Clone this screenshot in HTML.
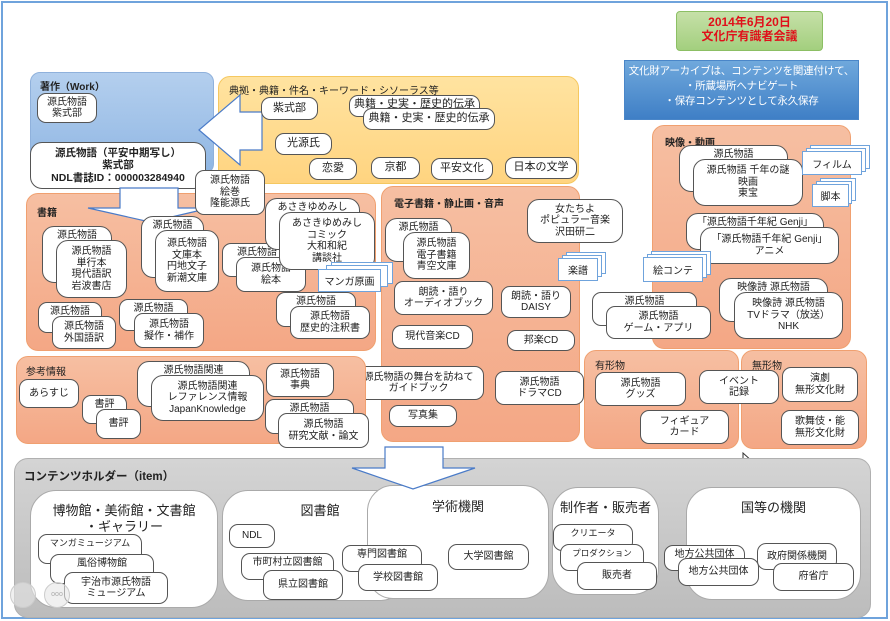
<!DOCTYPE html>
<html><head><meta charset="utf-8"><style>
*{margin:0;padding:0;box-sizing:border-box}
body{width:890px;height:621px;position:relative;overflow:hidden;background:#fff;font-family:"Liberation Sans","Noto Sans CJK JP",sans-serif;color:#222}
.a{position:absolute}
.b{position:absolute;background:#fff;border:1px solid #555;border-radius:9px;display:flex;align-items:center;justify-content:center;text-align:center;font-size:10px;line-height:11.5px;white-space:nowrap}
.bk{align-items:flex-start;padding-top:3px}
.g{position:absolute;border-radius:12px;border:1px solid #f0a070;background:linear-gradient(#f6bfa2,#f4a785)}
.t{position:absolute;font-size:10px;font-weight:bold;white-space:nowrap}
.h{position:absolute;background:#fff;border:1px solid #aaa;border-radius:26px}
.ht{position:absolute;font-size:13px;text-align:center;white-space:nowrap;line-height:16px}
.d{position:absolute;background:#fff;border:1.5px solid #6fa3dc}
.dt{position:absolute;font-size:10px;display:flex;align-items:center;justify-content:center;background:#fff;border:1.5px solid #6fa3dc}
</style></head><body>
<div class="a" style="left:1px;top:1px;width:887px;height:618px;border:2px solid #6fa3dc"></div>

<!-- title scroll -->
<div class="a" style="left:676px;top:11px;width:147px;height:40px;background:linear-gradient(#c6e0a8,#a3cf7e);border:1px solid #8cbf64;border-radius:4px"></div>
<div class="a" style="left:676px;top:15px;width:147px;text-align:center;color:#e0101a;font-weight:bold;font-size:12px;line-height:14px">2014年6月20日<br>文化庁有識者会議</div>
<!-- blue box -->
<div class="a" style="left:624px;top:60px;width:235px;height:60px;background:linear-gradient(#6fa8dc,#3f7fc6);border:1px solid #4a86c8;color:#fff;font-size:10.5px;line-height:15px;text-align:center;padding-top:3px;white-space:nowrap;letter-spacing:-0.2px">文化財アーカイブは、コンテンツを関連付けて、<br>・所蔵場所へナビゲート<br>・保存コンテンツとして永久保存</div>

<!-- Work -->
<div class="a" style="left:30px;top:72px;width:184px;height:102px;border-radius:10px;background:linear-gradient(#b4cfee,#8fb6e3);border:1px solid #8fb1dc"></div>
<div class="t" style="left:40px;top:78px">著作（Work）</div>
<div class="b" style="left:37px;top:93px;width:60px;height:30px">源氏物語<br>紫式部</div>

<!-- Yellow -->
<div class="a" style="left:218px;top:76px;width:361px;height:108px;border-radius:12px;background:linear-gradient(#ffe3a0,#ffd480);border:1px solid #f5c860"></div>
<div class="a" style="left:229px;top:82px;font-size:10px;white-space:nowrap">典拠・典籍・件名・キーワード・シソーラス等</div>
<svg class="a" style="left:0;top:0" width="890" height="621"><polygon points="199,130 240,95 240,112 262,112 262,150 240,150 240,165" fill="#fff" stroke="#4a7bc8" stroke-width="1.2"/></svg>
<div class="b" style="left:261px;top:97px;width:57px;height:23px;font-size:11px">紫式部</div>
<div class="b bk" style="left:349px;top:95px;width:131px;height:22px;font-size:11px">典籍・史実・歴史的伝承</div>
<div class="b" style="left:363px;top:108px;width:132px;height:22px;font-size:11px">典籍・史実・歴史的伝承</div>
<div class="b" style="left:275px;top:133px;width:57px;height:22px;font-size:11px">光源氏</div>
<div class="b" style="left:309px;top:158px;width:48px;height:22px;font-size:11px">恋愛</div>
<div class="b" style="left:371px;top:157px;width:49px;height:22px;font-size:11px">京都</div>
<div class="b" style="left:431px;top:158px;width:62px;height:22px;font-size:11px">平安文化</div>
<div class="b" style="left:505px;top:157px;width:72px;height:22px;font-size:11px">日本の文学</div>

<!-- 書籍 -->
<div class="g" style="left:26px;top:193px;width:350px;height:158px"></div>
<div class="t" style="left:37px;top:204px">書籍</div>
<div class="b" style="left:30px;top:142px;width:176px;height:47px;font-weight:bold;font-size:10.5px;line-height:12.5px;border-radius:12px">源氏物語（平安中期写し）<br>紫式部<br>NDL書誌ID：000003284940</div>
<svg class="a" style="left:0;top:0" width="890" height="621"><polygon points="120,188 178,188 178,208 210,208 150,222 88,208 120,208" fill="#fff" stroke="#4a7bc8" stroke-width="1.2"/></svg>
<div class="b" style="left:195px;top:170px;width:70px;height:45px">源氏物語<br>絵巻<br>隆能源氏</div>

<div class="b bk" style="left:42px;top:226px;width:70px;height:57px;border-radius:12px">源氏物語</div>
<div class="b" style="left:56px;top:240px;width:71px;height:58px;border-radius:12px">源氏物語<br>単行本<br>現代語訳<br>岩波書店</div>
<div class="b bk" style="left:141px;top:216px;width:63px;height:62px;border-radius:12px">源氏物語</div>
<div class="b" style="left:155px;top:230px;width:64px;height:62px;border-radius:12px">源氏物語<br>文庫本<br>円地文子<br>新潮文庫</div>
<div class="b bk" style="left:222px;top:243px;width:70px;height:34px">源氏物語</div>
<div class="b" style="left:236px;top:257px;width:70px;height:35px">源氏物語<br>絵本</div>
<div class="b bk" style="left:265px;top:198px;width:95px;height:52px;border-radius:12px">あさきゆめみし</div>
<div class="b" style="left:279px;top:212px;width:96px;height:58px;border-radius:12px">あさきゆめみし<br>コミック<br>大和和紀<br>講談社</div>
<div class="b bk" style="left:276px;top:292px;width:80px;height:35px">源氏物語</div>
<div class="b" style="left:290px;top:306px;width:80px;height:33px">源氏物語<br>歴史的注釈書</div>
<div class="b bk" style="left:38px;top:302px;width:64px;height:31px">源氏物語</div>
<div class="b" style="left:52px;top:316px;width:64px;height:33px">源氏物語<br>外国語訳</div>
<div class="b bk" style="left:119px;top:299px;width:69px;height:32px">源氏物語</div>
<div class="b" style="left:134px;top:313px;width:70px;height:35px">源氏物語<br>擬作・補作</div>

<!-- 電子書籍 -->
<div class="g" style="left:381px;top:186px;width:199px;height:256px"></div>
<div class="t" style="left:394px;top:195px">電子書籍・静止画・音声</div>
<div class="b bk" style="left:385px;top:218px;width:67px;height:44px;border-radius:12px">源氏物語</div>
<div class="b" style="left:403px;top:232px;width:67px;height:47px;border-radius:12px">源氏物語<br>電子書籍<br>青空文庫</div>
<div class="d" style="left:331px;top:262px;width:62px;height:22px"></div>
<div class="d" style="left:326px;top:265px;width:62px;height:22px"></div>
<div class="dt" style="left:318px;top:269px;width:63px;height:23px">マンガ原画</div>
<div class="b" style="left:527px;top:199px;width:96px;height:44px;border-radius:12px">女たちよ<br>ポピュラー音楽<br>沢田研二</div>
<div class="d" style="left:566px;top:252px;width:40px;height:22px"></div>
<div class="d" style="left:562px;top:255px;width:40px;height:22px"></div>
<div class="dt" style="left:558px;top:258px;width:40px;height:23px">楽譜</div>
<div class="b" style="left:394px;top:281px;width:99px;height:34px">朗読・語り<br>オーディオブック</div>
<div class="b" style="left:501px;top:286px;width:70px;height:32px">朗読・語り<br>DAISY</div>
<div class="b" style="left:392px;top:325px;width:81px;height:24px">現代音楽CD</div>
<div class="b" style="left:507px;top:330px;width:68px;height:21px">邦楽CD</div>
<div class="b" style="left:353px;top:366px;width:131px;height:34px">源氏物語の舞台を訪ねて<br>ガイドブック</div>
<div class="b" style="left:495px;top:371px;width:89px;height:34px">源氏物語<br>ドラマCD</div>
<div class="b" style="left:389px;top:405px;width:68px;height:22px">写真集</div>

<!-- 参考情報 -->
<div class="g" style="left:16px;top:356px;width:350px;height:88px"></div>
<div class="a" style="left:26px;top:363px;font-size:10px">参考情報</div>
<div class="b" style="left:19px;top:379px;width:60px;height:29px">あらすじ</div>
<div class="b bk" style="left:82px;top:395px;width:45px;height:29px">書評</div>
<div class="b" style="left:96px;top:409px;width:45px;height:30px">書評</div>
<div class="b bk" style="left:137px;top:361px;width:113px;height:46px;border-radius:12px">源氏物語関連</div>
<div class="b" style="left:151px;top:375px;width:113px;height:46px;border-radius:12px">源氏物語関連<br>レファレンス情報<br>JapanKnowledge</div>
<div class="b" style="left:266px;top:363px;width:68px;height:34px">源氏物語<br>事典</div>
<div class="b bk" style="left:265px;top:399px;width:89px;height:35px">源氏物語</div>
<div class="b" style="left:278px;top:413px;width:91px;height:35px">源氏物語<br>研究文献・論文</div>

<!-- 映像・動画 -->
<div class="g" style="left:652px;top:125px;width:199px;height:224px"></div>
<div class="t" style="left:665px;top:134px">映像・動画</div>
<div class="b bk" style="left:679px;top:145px;width:109px;height:47px;border-radius:12px">源氏物語</div>
<div class="b" style="left:693px;top:159px;width:110px;height:47px;border-radius:12px">源氏物語 千年の謎<br>映画<br>東宝</div>
<div class="d" style="left:810px;top:145px;width:60px;height:24px"></div>
<div class="d" style="left:806px;top:148px;width:60px;height:24px"></div>
<div class="dt" style="left:802px;top:151px;width:60px;height:24px">フィルム</div>
<div class="d" style="left:820px;top:178px;width:36px;height:23px"></div>
<div class="d" style="left:816px;top:181px;width:36px;height:23px"></div>
<div class="dt" style="left:812px;top:184px;width:37px;height:23px">脚本</div>
<div class="b bk" style="left:686px;top:213px;width:138px;height:37px;border-radius:12px">「源氏物語千年紀 Genji」</div>
<div class="b" style="left:700px;top:227px;width:139px;height:37px;border-radius:12px">「源氏物語千年紀 Genji」<br>アニメ</div>
<div class="d" style="left:651px;top:251px;width:60px;height:24px"></div>
<div class="d" style="left:647px;top:254px;width:60px;height:24px"></div>
<div class="dt" style="left:643px;top:257px;width:60px;height:25px">絵コンテ</div>
<div class="b bk" style="left:719px;top:278px;width:109px;height:44px;border-radius:12px">映像詩 源氏物語</div>
<div class="b" style="left:734px;top:292px;width:109px;height:47px;border-radius:12px">映像詩 源氏物語<br>TVドラマ（放送）<br>NHK</div>
<div class="b bk" style="left:592px;top:292px;width:105px;height:34px">源氏物語</div>
<div class="b" style="left:606px;top:306px;width:105px;height:33px">源氏物語<br>ゲーム・アプリ</div>

<!-- 有形物 無形物 -->
<div class="g" style="left:584px;top:350px;width:155px;height:99px"></div>
<div class="a" style="left:595px;top:357px;font-size:10px">有形物</div>
<div class="g" style="left:741px;top:350px;width:126px;height:99px"></div>
<div class="a" style="left:752px;top:357px;font-size:10px">無形物</div>
<div class="b" style="left:595px;top:372px;width:91px;height:34px">源氏物語<br>グッズ</div>
<div class="b" style="left:699px;top:370px;width:80px;height:34px">イベント<br>記録</div>
<div class="b" style="left:640px;top:410px;width:89px;height:34px">フィギュア<br>カード</div>
<div class="b" style="left:782px;top:367px;width:76px;height:35px">演劇<br>無形文化財</div>
<div class="b" style="left:781px;top:410px;width:78px;height:35px">歌舞伎・能<br>無形文化財</div>

<!-- cursor -->
<svg class="a" style="left:742px;top:452px" width="14" height="18"><polygon points="1,1 1,14 4,11 7,17 9,16 6,10 11,10" fill="#fff" stroke="#333" stroke-width="1"/></svg>

<!-- Contents holder -->
<div class="a" style="left:14px;top:458px;width:857px;height:160px;border-radius:14px;background:linear-gradient(#d4d4d4,#bcbcbc);border:1px solid #b0b0b0"></div>
<div class="a" style="left:24px;top:468px;font-size:11.5px;font-weight:bold">コンテンツホルダー（item）</div>

<div class="h" style="left:30px;top:490px;width:188px;height:118px"></div>
<div class="ht" style="left:30px;top:503px;width:188px">博物館・美術館・文書館<br>・ギャラリー</div>
<div class="b bk" style="left:38px;top:534px;width:104px;height:30px;font-size:9px">マンガミュージアム</div>
<div class="b bk" style="left:50px;top:554px;width:104px;height:30px">風俗博物館</div>
<div class="b" style="left:64px;top:572px;width:104px;height:32px">宇治市源氏物語<br>ミュージアム</div>

<div class="h" style="left:222px;top:490px;width:184px;height:111px"></div>
<div class="ht" style="left:280px;top:503px;width:80px">図書館</div>
<div class="b" style="left:229px;top:524px;width:46px;height:24px">NDL</div>
<div class="b bk" style="left:241px;top:553px;width:93px;height:27px">市町村立図書館</div>
<div class="b" style="left:263px;top:570px;width:80px;height:30px">県立図書館</div>

<div class="h" style="left:367px;top:485px;width:182px;height:114px"></div>
<div class="ht" style="left:367px;top:499px;width:182px">学術機関</div>
<div class="b bk" style="left:342px;top:545px;width:80px;height:27px">専門図書館</div>
<div class="b" style="left:358px;top:564px;width:80px;height:27px">学校図書館</div>
<div class="b" style="left:448px;top:544px;width:81px;height:26px">大学図書館</div>
<svg class="a" style="left:0;top:0" width="890" height="621"><polygon points="385,447 443,447 443,468 475,468 413,489 352,468 385,468" fill="#fff" stroke="#4a7bc8" stroke-width="1.2"/></svg>

<div class="h" style="left:552px;top:487px;width:107px;height:108px"></div>
<div class="ht" style="left:552px;top:500px;width:107px">制作者・販売者</div>
<div class="b bk" style="left:553px;top:524px;width:80px;height:27px;font-size:9px">クリエータ</div>
<div class="b bk" style="left:560px;top:544px;width:84px;height:27px;font-size:8.5px">プロダクション</div>
<div class="b" style="left:577px;top:562px;width:80px;height:28px">販売者</div>

<div class="h" style="left:686px;top:487px;width:175px;height:113px"></div>
<div class="ht" style="left:686px;top:500px;width:175px">国等の機関</div>
<div class="b bk" style="left:664px;top:545px;width:81px;height:26px">地方公共団体</div>
<div class="b" style="left:678px;top:558px;width:81px;height:28px">地方公共団体</div>
<div class="b" style="left:757px;top:543px;width:80px;height:27px">政府関係機関</div>
<div class="b" style="left:773px;top:563px;width:81px;height:28px">府省庁</div>

<!-- faint circle icons -->
<div class="a" style="left:10px;top:582px;width:26px;height:26px;border-radius:50%;border:1px solid #ccc;background:rgba(230,230,230,.6)"></div>
<div class="a" style="left:44px;top:582px;width:26px;height:26px;border-radius:50%;border:1px solid #ccc;background:rgba(230,230,230,.6);font-size:7px;color:#aaa;text-align:center;line-height:24px">ooo</div>
</body></html>
